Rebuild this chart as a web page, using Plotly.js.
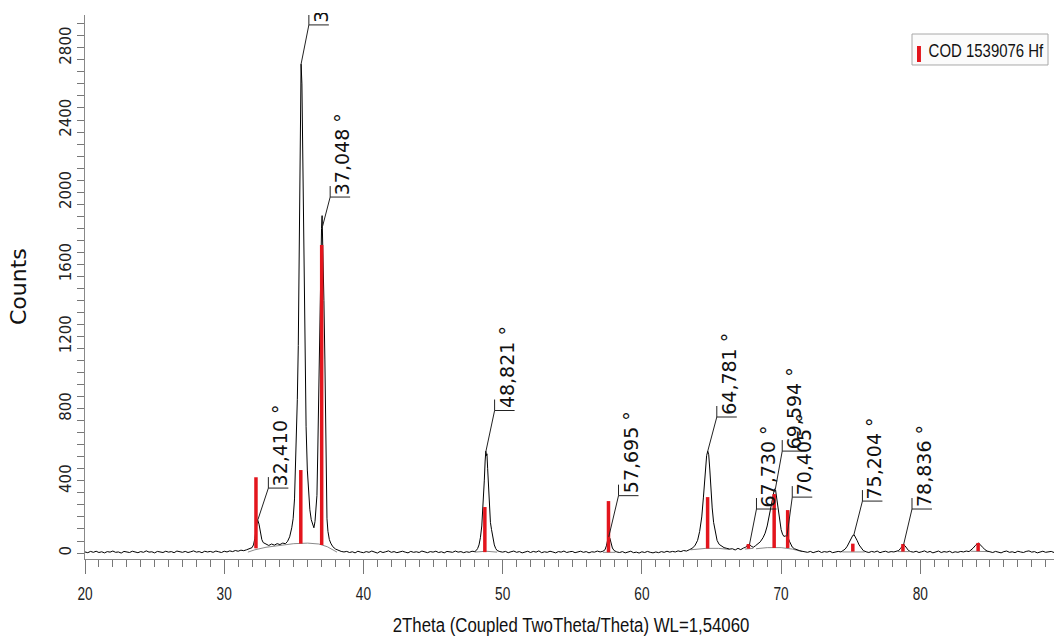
<!DOCTYPE html>
<html><head><meta charset="utf-8">
<script src="https://cdn.plot.ly/plotly-3.0.1.min.js"></script>
<style>html,body{margin:0;padding:0;background:#fff;} #chart{width:1054px;height:637px;}</style>
</head><body><div id="chart"></div>
<script>
// Measured pattern (2theta in degrees, counts)
const twoTheta = [
 20.0,20.2,20.4,20.6,20.8,21.0,21.2,21.4,21.6,21.8,22.0,22.2,22.4,22.6,22.8,23.0,23.2,23.4,23.6,23.8,
 24.0,24.2,24.4,24.6,24.8,25.0,25.2,25.4,25.6,25.8,26.0,26.2,26.4,26.6,26.8,27.0,27.2,27.4,27.6,27.8,
 28.0,28.2,28.4,28.6,28.8,29.0,29.2,29.4,29.6,29.8,30.0,30.2,30.4,30.6,30.8,31.0,31.2,31.4,
 31.6,31.8,32.0,32.1,32.2,32.3,32.4,32.5,32.6,32.7,32.8,33.0,33.2,33.4,33.6,33.8,34.0,34.2,34.4,34.55,
 34.7,34.85,34.95,35.05,35.15,35.25,35.32,35.4,35.46,35.52,35.58,35.64,35.7,35.79,35.88,35.97,36.06,36.15,36.25,36.35,
 36.44,36.52,36.6,36.66,36.72,36.78,36.84,36.9,36.95,36.99,37.03,37.06,37.1,37.16,37.23,37.28,37.33,37.38,37.45,37.55,
 37.65,37.8,38.0,38.2,38.4,38.6,
 38.8,39.0,39.2,39.4,39.6,39.8,40.0,40.2,40.4,40.6,40.8,41.0,41.2,41.4,41.6,41.8,42.0,42.2,42.4,42.6,
 42.8,43.0,43.2,43.4,43.6,43.8,44.0,44.2,44.4,44.6,44.8,45.0,45.2,45.4,45.6,45.8,46.0,46.2,46.4,46.6,
 46.8,47.0,47.2,47.4,47.6,47.8,
 48.0,48.1,48.2,48.3,48.4,48.5,48.6,48.68,48.74,48.79,48.83,48.87,48.92,48.98,49.05,49.12,49.2,49.3,49.4,49.5,49.6,49.8,
 50.0,50.2,50.4,50.6,50.8,51.0,51.2,51.4,51.6,51.8,52.0,52.2,52.4,52.6,52.8,53.0,53.2,53.4,53.6,53.8,
 54.0,54.2,54.4,54.6,54.8,55.0,55.2,55.4,55.6,55.8,56.0,56.2,56.4,56.6,56.8,57.0,
 57.2,57.35,57.45,57.55,57.62,57.7,57.78,57.88,58.0,58.2,
 58.4,58.6,58.8,59.0,59.2,59.4,59.6,59.8,60.0,60.2,60.4,60.6,60.8,61.0,61.2,61.4,61.6,61.8,62.0,62.2,
 62.4,62.6,62.8,63.0,63.2,
 63.4,63.6,63.8,64.0,64.15,64.3,64.42,64.55,64.65,64.73,64.8,64.88,64.96,65.05,65.15,65.27,65.4,65.55,65.7,65.9,66.1,66.3,
 66.5,66.7,66.9,67.1,67.3,67.45,67.6,67.73,67.85,68.0,68.15,68.3,68.5,68.7,68.85,69.0,69.15,69.3,69.42,69.52,
 69.6,69.68,69.78,69.9,70.0,70.1,70.2,70.3,70.4,70.5,70.6,70.7,70.8,70.95,71.1,71.3,71.5,71.7,
 71.9,72.1,72.3,72.5,72.7,72.9,73.1,73.3,73.5,73.7,73.9,74.1,
 74.3,74.45,74.6,74.75,74.9,75.05,75.15,75.25,75.35,75.47,75.6,75.75,75.9,76.1,
 76.3,76.5,76.7,76.9,77.1,77.3,77.5,77.7,77.9,78.1,78.3,
 78.45,78.58,78.7,78.8,78.9,79.02,79.15,79.3,
 79.5,79.7,79.9,80.1,80.3,80.5,80.7,80.9,81.1,81.3,81.5,81.7,81.9,82.1,82.3,82.5,82.7,82.9,83.1,83.3,83.5,
 83.65,83.8,83.95,84.05,84.15,84.25,84.35,84.5,84.65,84.8,85.0,
 85.2,85.4,85.6,85.8,86.0,86.2,86.4,86.6,86.8,87.0,87.2,87.4,87.6,87.8,88.0,88.2,88.4,88.6,88.8,89.0,
 89.2,89.4,89.6
];
const counts = [
 6,2,9,4,10,3,7,1,8,5,11,4,6,0,9,5,3,10,6,2,
 8,4,12,5,7,1,9,6,3,10,5,8,2,11,6,4,9,3,7,12,
 5,8,2,10,6,9,4,11,7,3,10,6,12,8,14,10,16,13,
 18,22,30,45,80,140,185,160,110,75,58,48,42,50,44,52,47,55,52,65,
 90,140,190,300,520,850,1150,1750,2350,2710,2600,2150,1650,1070,700,460,320,240,185,155,
 140,175,240,320,560,900,1200,1500,1720,1800,1870,1790,1700,1400,1070,700,350,190,120,75,
 55,35,22,14,9,6,
 9,3,7,1,10,5,2,8,4,11,6,0,9,3,7,12,4,8,2,6,
 10,5,1,9,4,7,3,11,6,2,8,5,10,3,7,1,9,6,4,11,
 5,8,2,7,4,10,
 8,14,25,45,85,150,270,400,510,565,540,550,470,360,250,170,130,80,45,25,14,8,
 5,9,2,7,11,4,8,1,6,10,3,9,5,12,2,7,4,10,6,1,
 8,5,11,3,7,9,2,6,10,4,8,1,7,5,11,6,
 10,18,40,75,90,82,55,28,14,6,
 3,8,1,6,10,2,5,0,7,3,9,4,1,6,2,8,4,10,5,9,
 6,12,8,14,11,
 18,26,40,70,120,200,310,450,540,565,545,460,340,250,170,110,70,48,38,30,26,22,
 24,17,26,19,28,32,45,48,38,32,40,48,62,85,110,150,210,260,320,355,
 350,300,240,170,130,105,92,95,92,85,65,45,33,24,18,14,10,8,
 4,9,2,7,11,3,8,5,10,2,6,9,
 6,12,22,38,60,85,98,100,88,68,45,26,14,7,
 3,9,5,11,2,7,10,4,8,6,12,
 14,26,40,47,40,26,14,8,
 5,10,3,7,12,4,9,1,6,11,3,8,5,10,2,7,4,9,6,11,8,
 16,28,42,52,56,50,44,30,18,11,7,
 3,9,5,1,8,11,4,7,2,10,6,3,9,12,5,8,1,7,10,4,
 6,9,3
];

// Fitted background segments under the peaks (grey)
const bgTheta  = [31.7,32.2,33.0,34.0,35.0,36.0,36.8,37.4,37.8,38.1,null,
                  48.0,48.8,49.6,null, 57.2,57.65,58.1,null,
                  63.5,64.6,65.5,66.3,null, 67.4,67.7,68.0,null,
                  68.2,69.0,70.0,70.8,71.5,null, 74.4,75.2,76.0,null,
                  78.4,78.8,79.2,null, 83.6,84.2,84.9];
const bgCounts = [5,18,32,44,52,55,50,35,18,5,null,
                  5,10,5,null, 4,6,4,null,
                  18,26,26,20,null, 22,25,26,null,
                  24,30,30,22,8,null, 6,8,6,null,
                  8,9,8,null, 10,11,8];

// Reference pattern COD 1539076 Hf (stick positions, top and base in counts)
const refName  = "COD 1539076 Hf";
const refTheta = [32.28, 35.50, 37.00, 48.72, 57.60, 64.72, 67.65, 69.50, 70.47, 75.15, 78.75, 84.15];
const refTop   = [420, 460, 1707, 255, 288, 310, 50, 327, 238, 52, 50, 56];
const refBase  = [26, 52, 45, 5, 4, 25, 24, 28, 28, 8, 8, 10];

// Peak labels
const peakLabels = ["32,410 °","35,527 °","37,048 °","48,821 °","57,695 °","64,781 °","67,730 °","69,594 °","70,405 °","75,204 °","78,836 °"];
const peakTheta  = [32.42, 35.52, 37.06, 48.80, 57.62, 64.73, 67.73, 69.58, 70.42, 75.22, 78.80];
const peakCounts = [185, 2710, 1810, 565, 90, 565, 48, 352, 92, 100, 47];
// label placement (layout): bracket height in counts and horizontal offset in degrees
const labelY  = [360, 2927, 1973, 790, 318, 754, 244, 565, 310, 288, 244];
const labelDx = [0.75, 0.56, 0.55, 0.62, 0.7, 0.65, 0.5, 0.5, 0.38, 0.62, 0.6];

const xTickVals = [20,30,40,50,60,70,80];
const xTickText = ["20","30","40","50","60","70","80"];
const yTickVals = [0,400,800,1200,1600,2000,2400,2800];
const yTickText = ["0","400","800","1200","1600","2000","2400","2800"];
const xTitle = "2Theta (Coupled TwoTheta/Theta) WL=1,54060";
const yTitle = "Counts";

const ARIAL = "Liberation Sans, Arial, sans-serif";
const WIDE = "DejaVu Sans, Verdana, sans-serif";

// Build stick trace
const stickX = [], stickY = [];
refTheta.forEach((t, i) => { stickX.push(t, t, null); stickY.push(refBase[i], refTop[i], null); });

const traces = [
  {x: bgTheta, y: bgCounts, type: 'scatter', mode: 'lines', line: {color: '#8a8a8a', width: 1}, hoverinfo: 'skip', connectgaps: false},
  {x: twoTheta, y: counts, type: 'scatter', mode: 'lines', line: {color: '#000', width: 1}, name: 'pattern'},
  {x: stickX, y: stickY, type: 'scatter', mode: 'lines', line: {color: '#e3151d', width: 3.5}, name: refName, connectgaps: false}
];

const shapes = [];
const annotations = [];
peakLabels.forEach((lab, i) => {
  const bx = peakTheta[i] + labelDx[i];
  const by = labelY[i];
  shapes.push({type: 'line', xref: 'x', yref: 'y', x0: peakTheta[i], y0: peakCounts[i], x1: bx, y1: by, line: {color: '#222', width: 1}});
  shapes.push({type: 'line', xref: 'x', yref: 'y', xsizemode: 'pixel', xanchor: bx, x0: 0, x1: 20, y0: by, y1: by, line: {color: '#222', width: 1}});
  shapes.push({type: 'line', xref: 'x', yref: 'y', ysizemode: 'pixel', yanchor: by, y0: 0, y1: 11, x0: bx, x1: bx, line: {color: '#222', width: 1}});
  annotations.push({x: bx, y: by, xref: 'x', yref: 'y', text: lab, showarrow: false, textangle: -90,
    xanchor: 'left', yanchor: 'bottom', xshift: 0, yshift: 1, borderpad: 0,
    font: {family: WIDE, size: 19, color: '#111'}});
});
const N_LABELS = annotations.length;

// legend box (drawn as shapes + text)
shapes.push({type: 'rect', xref: 'paper', yref: 'paper', x0: 0.85346, x1: 0.99381, y0: 0.90809, y1: 0.96507,
  fillcolor: '#fbfbfb', line: {color: '#a8a8a8', width: 1}});
shapes.push({type: 'rect', xref: 'paper', yref: 'paper', x0: 0.8586, x1: 0.8627, y0: 0.9136, y1: 0.943,
  fillcolor: '#e3151d', line: {width: 0}});
annotations.push({xref: 'paper', yref: 'paper', x: 0.99071, y: 0.93382, xanchor: 'right', yanchor: 'middle',
  text: refName, showarrow: false, borderpad: 0, font: {family: ARIAL, size: 18, color: '#111'}});
const IDX_LEGEND = annotations.length - 1;

// axis titles
annotations.push({xref: 'paper', yref: 'paper', x: 0.502, y: -0.1213, xanchor: 'center', yanchor: 'middle',
  text: xTitle, showarrow: false, font: {family: ARIAL, size: 21, color: '#111'}});
const IDX_XTITLE = annotations.length - 1;
annotations.push({xref: 'paper', yref: 'paper', x: -0.0691, y: 0.5, xanchor: 'center', yanchor: 'middle',
  text: yTitle, showarrow: false, textangle: -90, font: {family: WIDE, size: 22, color: '#111'}});

const layout = {
  width: 1054, height: 637,
  margin: {l: 85, r: 0, t: 15, b: 78, pad: 0},
  paper_bgcolor: '#fff', plot_bgcolor: '#fff',
  showlegend: false,
  xaxis: {range: [20, 89.6], tickmode: 'array', tickvals: xTickVals, ticktext: xTickText,
    ticks: 'outside', ticklen: 14, tickwidth: 1, tickcolor: '#777', showline: true, linecolor: '#888', linewidth: 1,
    showgrid: false, zeroline: false, ticklabelstandoff: 3,
    tickfont: {family: ARIAL, size: 19, color: '#222'},
    minor: {dtick: 1, tick0: 20, ticks: 'outside', ticklen: 7, tickcolor: '#777', showgrid: false}},
  yaxis: {range: [-33, 2982], tickmode: 'array', tickvals: yTickVals, ticktext: yTickText,
    ticks: 'outside', ticklen: 7, tickwidth: 1, tickcolor: '#777', tickangle: -90, showline: true, linecolor: '#888', linewidth: 1,
    showgrid: false, zeroline: false, ticklabelstandoff: 0,
    tickfont: {family: WIDE, size: 15, color: '#222'},
    minor: {dtick: 400 / 6, tick0: 0, ticks: 'outside', ticklen: 7, tickcolor: '#777', showgrid: false}},
  shapes: shapes,
  annotations: annotations
};

// horizontally condense a text element (the reference uses a narrow face)
function squeeze(el, s, anchor) {
  const bb = el.getBBox();
  const ax = anchor === 'right' ? bb.x + bb.width : (anchor === 'left' ? bb.x : bb.x + bb.width / 2);
  const t = el.getAttribute('transform') || '';
  el.setAttribute('transform', t + ' translate(' + ax + ',0) scale(' + s + ',1) translate(' + (-ax) + ',0)');
}

Plotly.newPlot('chart', traces, layout, {displayModeBar: false, staticPlot: true}).then(gd => {
  gd.querySelectorAll('.xtick text').forEach(el => squeeze(el, 0.72, 'center'));
  const leg = gd.querySelector('.annotation[data-index="' + IDX_LEGEND + '"] text');
  if (leg) squeeze(leg, 0.83, 'right');
  const xt = gd.querySelector('.annotation[data-index="' + IDX_XTITLE + '"] text');
  if (xt) squeeze(xt, 0.8, 'center');
  // the label of the strongest peak runs past the top of the plot frame and is cut there
  const svgs = gd.querySelectorAll('svg.main-svg');
  const svg = svgs[svgs.length - 1];
  const NS = 'http://www.w3.org/2000/svg';
  let defs = svg.querySelector('defs');
  if (!defs) { defs = document.createElementNS(NS, 'defs'); svg.insertBefore(defs, svg.firstChild); }
  const cp = document.createElementNS(NS, 'clipPath');
  cp.setAttribute('id', 'plotTopClip');
  const r = document.createElementNS(NS, 'rect');
  r.setAttribute('x', 0); r.setAttribute('y', 13); r.setAttribute('width', 1054); r.setAttribute('height', 700);
  cp.appendChild(r); defs.appendChild(cp);
  const mainLab = gd.querySelector('.annotation[data-index="1"]');
  if (mainLab) mainLab.setAttribute('clip-path', 'url(#plotTopClip)');
});
</script>
</body></html>
